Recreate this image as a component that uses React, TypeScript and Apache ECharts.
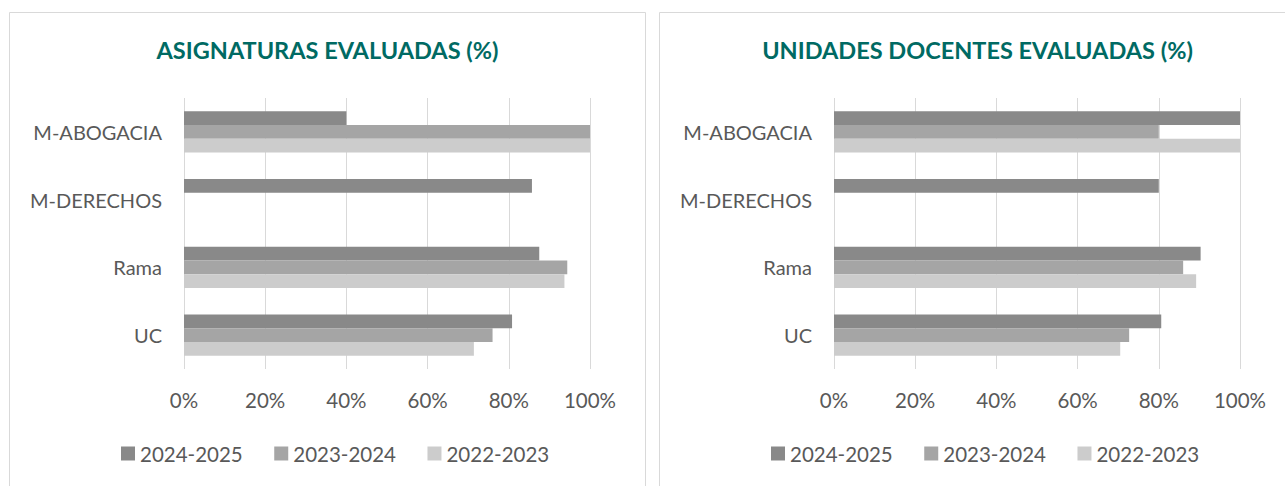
import React, { useEffect, useRef } from "react";
import * as echarts from "echarts";

const categories = ["M-ABOGACIA", "M-DERECHOS", "Rama", "UC"];
const seriesNames = ["2024-2025", "2023-2024", "2022-2023"];
const seriesColors = ["#898989", "#A5A5A5", "#CCCCCC"];

const asig2024 = [40, 85.7, 87.5, 80.8];
const asig2023 = [100, null, 94.4, 76.0];
const asig2022 = [100, null, 93.7, 71.4];

const ud2024 = [100, 80, 90.3, 80.6];
const ud2023 = [80, null, 86.0, 72.7];
const ud2022 = [100, null, 89.2, 70.5];

const titles = ["ASIGNATURAS EVALUADAS (%)", "UNIDADES DOCENTES EVALUADAS (%)"];
const xMin = 0;
const xMax = 100;
const xInterval = 20;

const FONT = "Lato, 'Noto Sans', sans-serif";

export default function App() {
  const ref = useRef<HTMLDivElement>(null);

  useEffect(() => {
    if (!ref.current) return;
    const chart = echarts.init(ref.current, undefined, { renderer: "svg" });
    const panels = [
      [asig2024, asig2023, asig2022],
      [ud2024, ud2023, ud2022],
    ];
    const offsets = [0, 650];

    const grids = offsets.map((o) => ({
      left: 184 + o,
      top: 98,
      width: 406,
      height: 271,
      containLabel: false,
    }));

    const xAxes = offsets.map((_, i) => ({
      type: "value",
      gridIndex: i,
      min: xMin,
      max: xMax,
      interval: xInterval,
      axisLine: { show: false },
      axisTick: { show: false },
      splitLine: { show: true, lineStyle: { color: "#D9D9D9", width: 1 } },
      axisLabel: {
        formatter: "{value}%",
        color: "#595959",
        fontSize: 20.5,
        fontFamily: FONT,
        margin: 20,
      },
    }));

    const yAxes = offsets.map((_, i) => ({
      type: "category",
      gridIndex: i,
      data: categories,
      inverse: true,
      axisLine: { show: false },
      axisTick: { show: false },
      splitLine: { show: false },
      axisLabel: {
        color: "#595959",
        fontSize: 20,
        fontFamily: FONT,
        margin: 22,
      },
    }));

    const series: any[] = [];
    panels.forEach((panel, pi) => {
      panel.forEach((vals, si) => {
        series.push({
          type: "bar",
          name: seriesNames[si],
          xAxisIndex: pi,
          yAxisIndex: pi,
          data: vals,
          barGap: "0%",
          barCategoryGap: "39%",
          itemStyle: { color: seriesColors[si] },
        });
      });
    });

    const legends = [116, 766].map((l) => ({
      left: l,
      top: 438,
      icon: "rect",
      itemWidth: 14,
      itemHeight: 14,
      itemGap: 31.5,
      selectedMode: false,
      data: seriesNames,
      textStyle: { color: "#595959", fontSize: 20.5, fontFamily: FONT },
    }));

    const graphic: any[] = [];
    offsets.forEach((o, i) => {
      graphic.push({
        type: "rect",
        silent: true,
        shape: { x: 9.5 + o, y: 12.5, width: 636, height: 520 },
        style: { fill: "none", stroke: "#D9D9D9", lineWidth: 1 },
      });
      graphic.push({
        type: "text",
        x: 327.5 + o,
        y: 49.5,
        silent: true,
        style: {
          text: titles[i],
          fill: "#006A63",
          font: `bold 23.5px ${FONT}`,
          align: "center",
          verticalAlign: "middle",
        },
      });
    });

    chart.setOption({
      animation: false,
      backgroundColor: "#FFFFFF",
      grid: grids,
      xAxis: xAxes,
      yAxis: yAxes,
      legend: legends,
      series,
      graphic,
    });

    return () => chart.dispose();
  }, []);

  return (
    <div
      ref={ref}
      style={{ position: "absolute", left: 0, top: 0, width: 1285, height: 486 }}
    />
  );
}
